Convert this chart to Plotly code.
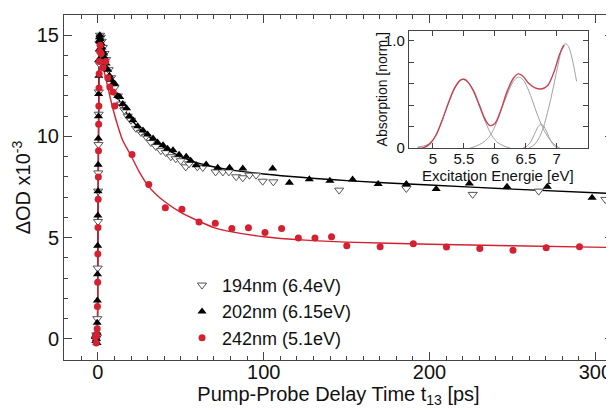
import plotly.graph_objects as go

# --- main panel data: delay time [ps] vs dOD x1e-3 ---
t_194 = [-1.3, -0.9, -0.5, -0.3, -0.1, 0.1, 0.2, 0.3, 0.4, 0.5, 0.6, 0.8, 1.0, 1.3, 1.8, 2.3, 3, 4, 5, 6.5,
         8, 10, 12, 14, 16, 18, 20, 23, 26, 29, 32, 35, 38, 41, 44, 47, 50, 53, 55, 60, 63.3, 71, 75.4, 79,
         83.4, 87.4, 91.4, 95.4, 99.4, 105.8, 145.5, 186, 226, 265.8, 306]
od_194 = [0.0, 0.2, 0.1, 1.0, 3.5, 5.8, 7.3, 8.2, 9.6, 11.1, 12.2, 13.6, 14.6, 15.0, 14.9, 14.7, 14.4, 14.1, 13.8, 13.3,
          12.9, 12.4, 12.0, 11.6, 11.3, 11.0, 10.8, 10.4, 10.2, 10.0, 9.7, 9.5, 9.3, 9.2, 9.0, 8.9, 8.8, 8.5, 8.65, 8.5, 8.47, 8.25, 8.25, 8.25,
          8.01, 7.96, 8.09, 8.09, 7.79, 7.76, 7.35, 7.43, 7.14, 7.30, 6.89]

t_202 = [-1.5, -1.2, -1.0, -0.8, -0.6, -0.5, -0.4, -0.3, -0.2, -0.1, 0.0, 0.1, 0.2, 0.3, 0.4, 0.5, 0.6, 0.7, 0.8,
         0.9, 1.0, 1.2, 1.5, 2.0, 2.5, 3.0, 3.5, 4.0, 5.0, 6, 7, 8, 9, 10.2, 12, 13.2, 15, 17.3, 19, 21.2, 24,
         27.2, 30, 33.3, 36, 39.3, 42, 45.3, 49, 53.3, 56, 59.3, 65.3, 72.3, 79.4, 87.4, 105.4, 115.5, 127.5,
         139.9, 153.6, 169, 186, 204, 224, 246.7, 271, 298]
od_202 = [0.1, -0.1, 0.2, 0.0, 0.3, -0.2, 0.8, 1.9, 3.2, 4.6, 6.1, 7.3, 8.6, 9.9, 11.0, 12.1, 13.0, 13.8, 14.3,
          14.7, 14.9, 15.0, 14.8, 14.6, 14.4, 14.2, 14.1, 13.9, 13.6, 13.3, 13.0, 12.8, 12.6, 12.6, 12.0, 11.95, 11.6, 11.4, 11.0, 10.8, 10.5,
          10.3, 10.1, 9.9, 9.7, 9.57, 9.4, 9.32, 9.1, 9.0, 8.8, 8.58, 8.62, 8.45, 8.45, 8.42, 8.42, 7.71, 7.89,
          7.81, 7.88, 7.65, 7.65, 7.40, 7.68, 7.52, 7.52, 6.97]

t_242 = [-1.4, -1.0, -0.7, -0.4, -0.25, -0.1, 0.0, 0.1, 0.2, 0.3, 0.4, 0.5, 0.6, 0.7, 0.8, 0.9, 1.1, 1.4, 2.0,
         3.0, 4.8, 6.0, 7.2, 9.2, 10.2, 20.6, 30.7, 40.7, 50.7, 61, 70.8, 80.8, 90.8, 100.8, 110.8, 120.9, 130.9,
         140.9, 150.1, 170.2, 190.2, 210.2, 230.3, 250.3, 270.3, 290.4]
od_242 = [0.1, -0.2, 0.2, 0.5, 1.6, 2.8, 4.2, 5.5, 6.9, 8.0, 9.3, 10.6, 11.5, 12.4, 13.1, 13.7, 14.2, 14.5, 14.1,
          13.4, 13.7, 12.9, 12.45, 12.2, 11.5, 9.11, 7.63, 6.48, 6.40, 5.77, 5.71, 5.46, 5.49, 5.26, 5.46, 4.98, 4.98,
          5.05, 4.60, 4.55, 4.70, 4.54, 4.47, 4.38, 4.51, 4.55]

# fit curves
fit_t_black = [-1, -0.3, 0, 0.3, 0.6, 0.9, 1.2, 2, 3, 5, 7.5, 10, 12.5, 15, 20, 25, 30, 40, 50, 60, 80, 100,
               150, 200, 250, 310]
fit_v_black = [0, 0.5, 4.5, 9, 12.5, 14.5, 15, 14.7, 14.3, 13.6, 12.9, 12.35, 11.85, 11.45, 10.85, 10.4, 10.05,
               9.45, 9.0, 8.7, 8.35, 8.15, 7.82, 7.6, 7.4, 7.18]
fit_t_red = [-1, -0.3, 0, 0.3, 0.6, 0.9, 1.2, 2, 3, 5, 7.5, 10, 12.5, 15, 20, 25, 30, 35, 40, 50, 60, 70, 80,
             100, 125, 150, 200, 250, 310]
fit_v_red = [0, 0.5, 4.0, 8.0, 11.5, 13.8, 14.3, 13.95, 13.5, 12.8, 11.9, 11.1, 10.4, 9.8, 9.05, 8.25, 7.6, 7.15,
             6.8, 6.25, 5.85, 5.5, 5.3, 5.05, 4.88, 4.78, 4.68, 4.6, 4.52]

# --- inset: absorption spectrum ---
e_sum = [4.75, 4.85, 4.95, 5.05, 5.15, 5.25, 5.35, 5.45, 5.5, 5.55, 5.65, 5.75, 5.85, 5.92, 6.0, 6.1, 6.2, 6.3,
         6.38, 6.45, 6.55, 6.65, 6.75, 6.85, 6.95, 7.05, 7.12]
a_sum = [0.0, 0.005, 0.04, 0.12, 0.26, 0.42, 0.56, 0.635, 0.64, 0.625, 0.54, 0.40, 0.26, 0.21, 0.23, 0.36, 0.53,
         0.65, 0.69, 0.67, 0.60, 0.56, 0.55, 0.58, 0.70, 0.88, 0.96]
e_g1 = [4.75, 4.9, 5.0, 5.1, 5.2, 5.3, 5.4, 5.47, 5.55, 5.65, 5.75, 5.85, 5.95, 6.05, 6.15, 6.25]
a_g1 = [0.01, 0.03, 0.08, 0.19, 0.34, 0.49, 0.6, 0.64, 0.62, 0.53, 0.39, 0.24, 0.12, 0.05, 0.02, 0.0]
e_g2 = [5.6, 5.7, 5.8, 5.9, 6.0, 6.1, 6.2, 6.3, 6.38, 6.45, 6.55, 6.65, 6.75, 6.85, 6.95, 7.05]
a_g2 = [0.0, 0.02, 0.05, 0.1, 0.2, 0.35, 0.5, 0.62, 0.66, 0.64, 0.53, 0.37, 0.22, 0.11, 0.04, 0.0]
e_g3 = [6.45, 6.52, 6.58, 6.64, 6.7, 6.74, 6.78, 6.84, 6.9, 6.96, 7.02]
a_g3 = [0.0, 0.02, 0.06, 0.13, 0.2, 0.22, 0.21, 0.15, 0.07, 0.02, 0.0]
e_g4 = [6.55, 6.65, 6.75, 6.85, 6.95, 7.03, 7.1, 7.15, 7.2, 7.26, 7.32]
a_g4 = [0.0, 0.04, 0.14, 0.33, 0.58, 0.8, 0.95, 0.97, 0.93, 0.8, 0.62]

RED = '#d42030'
FONT = 'Liberation Sans, Arial, sans-serif'
AX = '#444444'

fig = go.Figure()

fig.add_trace(go.Scatter(x=fit_t_black, y=fit_v_black, mode='lines', line=dict(color='black', width=1.4, shape='spline', smoothing=0.6),
                         showlegend=False, hoverinfo='skip'))
fig.add_trace(go.Scatter(x=fit_t_red, y=fit_v_red, mode='lines', line=dict(color=RED, width=1.4, shape='spline', smoothing=0.6),
                         showlegend=False, hoverinfo='skip'))
fig.add_trace(go.Scatter(x=t_194, y=od_194, mode='markers', name='194nm (6.4eV)',
                         marker=dict(symbol='triangle-down', size=8, color='white', line=dict(color='#555555', width=1))))
fig.add_trace(go.Scatter(x=t_202, y=od_202, mode='markers', name='202nm (6.15eV)',
                         marker=dict(symbol='triangle-up', size=8, color='black')))
fig.add_trace(go.Scatter(x=t_242, y=od_242, mode='markers', name='242nm (5.1eV)',
                         marker=dict(symbol='circle', size=7, color=RED)))

# inset traces
for ex, ay in [(e_g1, a_g1), (e_g2, a_g2), (e_g3, a_g3), (e_g4, a_g4)]:
    fig.add_trace(go.Scatter(x=ex, y=ay, xaxis='x2', yaxis='y2', mode='lines',
                             line=dict(color='#a0a0a0', width=1, shape='spline'), showlegend=False, hoverinfo='skip'))
fig.add_trace(go.Scatter(x=e_sum, y=a_sum, xaxis='x2', yaxis='y2', mode='lines',
                         line=dict(color='#c8414f', width=1.4, shape='spline'), showlegend=False, hoverinfo='skip'))

# page body has an 8px default margin, so the figure is 8px smaller than the window
fig.update_layout(
    width=606, height=402,
    margin=dict(l=56, r=1, t=7, b=50, autoexpand=False),
    paper_bgcolor='white', plot_bgcolor='white',
    font=dict(family=FONT, size=20, color='#111111'),
    xaxis=dict(range=[-20.4, 310.6], tickvals=[0, 100, 200, 300], ticks='inside', ticklen=8, tickcolor=AX,
               minor=dict(dtick=10, ticks='inside', ticklen=4, tickcolor=AX), automargin=False,
               ticklabelstandoff=-6,
               showline=True, linecolor=AX, linewidth=1, mirror='allticks', showgrid=False, zeroline=False,
               title=dict(text='Pump-Probe Delay Time t<sub>13</sub> [ps]', font=dict(size=20), standoff=4)),
    yaxis=dict(range=[-1.04, 16], tickvals=[0, 5, 10, 15], ticks='inside', ticklen=8, tickcolor=AX,
               minor=dict(dtick=1, ticks='inside', ticklen=4, tickcolor=AX), automargin=False,
               showline=True, linecolor=AX, linewidth=1, mirror='allticks', showgrid=False, zeroline=False,
               title=dict(text='ΔOD x10<sup>-3</sup>', font=dict(size=20), standoff=0)),
    xaxis2=dict(domain=[0.628, 0.954], anchor='y2', range=[4.61, 7.5], tickvals=[5, 5.5, 6, 6.5, 7],
                ticktext=['5', '5.5', '6', '6.5', '7'], ticks='inside', ticklen=5, tickcolor=AX, automargin=False,
                ticklabelstandoff=-3,
                showline=True, linecolor=AX, linewidth=1, mirror='allticks', showgrid=False, zeroline=False,
                tickfont=dict(size=15)),
    yaxis2=dict(domain=[0.614, 0.954], anchor='x2', range=[0, 1.09], tickvals=[0, 0.2, 0.4, 0.6, 0.8, 1.0],
                ticktext=['0', '', '', '', '', '1.0'], ticks='inside', ticklen=5, tickcolor=AX, automargin=False,
                showline=True, linecolor=AX, linewidth=1, mirror='allticks', showgrid=False, zeroline=False,
                tickfont=dict(size=15)),
    legend=dict(x=0.215, y=0.27, xanchor='left', yanchor='top', bgcolor='rgba(0,0,0,0)',
                font=dict(size=18), itemwidth=30, tracegroupgap=0),
)

# inset axis titles placed as annotations (plotly leaves too much room otherwise)
fig.add_annotation(text='Excitation Energie [eV]', xref='x2 domain', yref='y2 domain', x=0.5, y=-0.235,
                   xanchor='center', yanchor='middle', showarrow=False, font=dict(size=15))
fig.add_annotation(text='Absorption [norm.]', xref='x2 domain', yref='y2 domain', x=-0.15, y=0.5,
                   xanchor='center', yanchor='middle', textangle=-90, showarrow=False, font=dict(size=14))

fig.write_html("out.html")
